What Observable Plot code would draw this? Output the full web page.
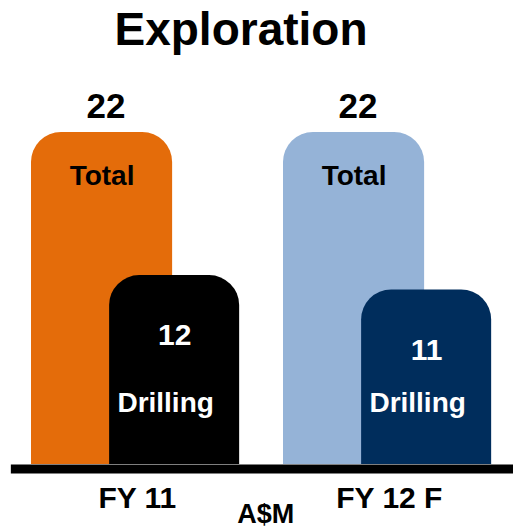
<!DOCTYPE html>
<html><head><meta charset="utf-8">
<script src="https://cdn.jsdelivr.net/npm/d3@7"></script>
<script src="https://cdn.jsdelivr.net/npm/@observablehq/plot@0.6"></script>
<style>body{margin:0;background:#fff}</style>
</head><body><div id="chart"></div>
<script>
const title = "Exploration";
const years = ["FY 11", "FY 12 F"];
const totals = [22, 22];
const drilling = [12, 11];
const seriesLabels = ["Total", "Drilling"];
const unitLabel = "A$M";
const totalColors = ["#E46C0A", "#95B3D7"];
const drillingColors = ["#000000", "#002D5C"];

// the original's baseline sits slightly below zero
const baseline = -1.2;
const font = "'Liberation Sans', Arial, Helvetica, sans-serif";

const bars = years.flatMap((year, i) => [
  {year, series: seriesLabels[0], value: totals[i], x1: i, x2: i + 0.56, color: totalColors[i]},
  {year, series: seriesLabels[1], value: drilling[i], x1: i + 0.31, x2: i + 0.826, color: drillingColors[i]}
]);
const totalBars = bars.filter(d => d.series === seriesLabels[0]);
const drillBars = bars.filter(d => d.series === seriesLabels[1]);
const cx = d => (d.x1 + d.x2) / 2;
const txt = {fontFamily: font, fontWeight: "bold", lineAnchor: "middle"};

const chart = Plot.plot({
  width: 513, height: 530,
  marginTop: 132, marginBottom: 66, marginLeft: 0, marginRight: 0,
  style: {fontFamily: font, background: "#fff"},
  x: {type: "linear", domain: [0, 1], range: [31, 283], axis: null},
  y: {domain: [baseline, 22], axis: null},
  color: {type: "identity"},
  marks: [
    Plot.rect(bars, {x1: "x1", x2: "x2", y1: () => baseline - 4, y2: "value", fill: "color", rx: 30, clip: "frame"}),
    Plot.ruleY([baseline], {x1: () => -0.08, x2: () => 1.93, stroke: "#000", strokeWidth: 9, dy: 4.5}),
    Plot.text(totalBars, {x: cx, y: "value", text: d => String(d.value), dx: 4, dy: -26, fontSize: 35, fill: "#000", ...txt}),
    Plot.text(totalBars, {x: cx, y: "value", text: () => seriesLabels[0], dy: 44, fontSize: 28, fill: "#000", ...txt}),
    Plot.text(drillBars, {x: cx, y: "value", text: d => String(d.value), dy: 60, fontSize: 30, fill: "#fff", ...txt}),
    Plot.text(drillBars, {x: cx, y: () => baseline, text: () => seriesLabels[1], dx: -9, dy: -61, fontSize: 28, fill: "#fff", ...txt}),
    Plot.text(years, {x: (d, i) => i + 0.42, y: () => baseline, text: d => d, dy: 34, fontSize: 30, fill: "#000", ...txt}),
    Plot.text([unitLabel], {x: () => 0.93, y: () => baseline, text: d => d, dy: 50, fontSize: 27, fill: "#000", ...txt}),
    Plot.text([title], {frameAnchor: "top", text: d => d, dx: -16, dy: -102, fontSize: 46, fill: "#000", ...txt})
  ]
});
document.getElementById("chart").appendChild(chart);
</script>
</body></html>
